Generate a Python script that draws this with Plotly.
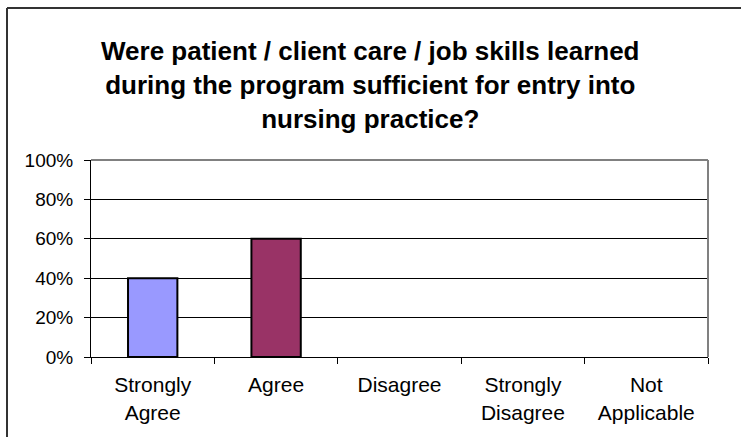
import plotly.graph_objects as go

# survey answers and share of respondents
categories = ["Strongly<br>Agree", "Agree", "Disagree", "Strongly<br>Disagree", "Not<br>Applicable"]
shares = [0.40, 0.60, 0, 0, 0]
bar_colors = ["#9999FF", "#993366", "#9999FF", "#9999FF", "#9999FF"]
outline_widths = [2, 2, 0, 0, 0]

W, H = 741, 437
L, R, T, B = 91, 33, 160, 80
pw, ph = W - L - R, H - T - B


def px_x(px):
    return (px - L) / pw


def px_y(py):
    return (H - B - py) / ph


fig = go.Figure(go.Bar(
    x=categories,
    y=shares,
    width=0.4,
    marker=dict(color=bar_colors, line=dict(color="black", width=outline_widths)),
))

fig.update_layout(
    width=W, height=H,
    margin=dict(l=L, r=R, t=T, b=B),
    paper_bgcolor="white",
    plot_bgcolor="white",
    font=dict(family="Liberation Sans, Arial, sans-serif", size=20, color="black"),
    showlegend=False,
    xaxis=dict(
        type="category",
        tickson="boundaries",
        ticks="outside", ticklen=6, tickcolor="black",
        ticklabelstandoff=9,
        showline=True, linecolor="black", linewidth=1,
        showgrid=False,
        tickfont=dict(size=21),
    ),
    yaxis=dict(
        range=[0, 1],
        dtick=0.2,
        tickformat=".0%",
        ticks="outside", ticklen=6, tickcolor="black",
        ticklabelstandoff=7,
        showline=True, linecolor="black", linewidth=1,
        showgrid=True, gridcolor="black", gridwidth=1,
        zeroline=False,
        tickfont=dict(size=19),
    ),
    bargap=0.6,
)

# chart title
fig.add_annotation(
    text="<b>Were patient / client care / job skills learned<br>"
         "during the program sufficient for entry into<br>"
         "nursing practice?</b>",
    xref="paper", yref="paper",
    x=px_x(W / 2), y=px_y(34), xanchor="center", yanchor="top",
    showarrow=False,
    font=dict(size=26, family="Liberation Sans, Arial, sans-serif"),
)

# gray top/right border of the plot area
fig.add_shape(type="line", xref="paper", yref="paper", x0=0, x1=1, y0=1, y1=1,
              line=dict(color="#808080", width=2))
fig.add_shape(type="line", xref="paper", yref="paper", x0=1, x1=1, y0=0, y1=1,
              line=dict(color="#808080", width=2))

# outer chart frame (left and top edges visible)
fig.add_shape(type="line", xref="paper", yref="paper",
              x0=px_x(7), x1=px_x(7), y0=px_y(8), y1=px_y(445),
              line=dict(color="#333333", width=2))
fig.add_shape(type="line", xref="paper", yref="paper",
              x0=px_x(7), x1=px_x(750), y0=px_y(8), y1=px_y(8),
              line=dict(color="#333333", width=2))

fig.write_html("out.html", config={"displayModeBar": False},
               post_script="document.body.style.margin='0';")
